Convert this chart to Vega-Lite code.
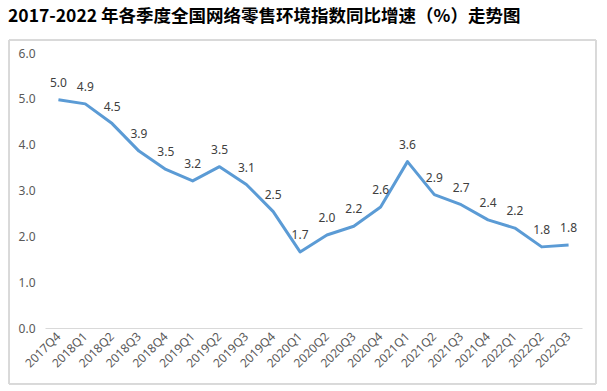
{
  "$schema": "https://vega.github.io/schema/vega-lite/v6.json",
  "width": 537,
  "height": 275,
  "autosize": {"type": "none"},
  "padding": {"left": 45, "top": 53, "right": 25, "bottom": 63},
  "background": "white",
  "title": {
    "text": "2017-2022 年各季度全国网络零售环境指数同比增速（%）走势图",
    "anchor": "start",
    "frame": "group",
    "dx": -37,
    "offset": 14,
    "font": "Noto Sans CJK SC",
    "fontSize": 17.5,
    "fontWeight": "bold",
    "color": "#000000"
  },
  "config": {
    "view": {"stroke": null},
    "font": "Noto Sans"
  },
  "data": {
    "values": [
      {"q": "2017Q4", "v": 4.98},
      {"q": "2018Q1", "v": 4.89},
      {"q": "2018Q2", "v": 4.46},
      {"q": "2018Q3", "v": 3.86},
      {"q": "2018Q4", "v": 3.46},
      {"q": "2019Q1", "v": 3.21},
      {"q": "2019Q2", "v": 3.52},
      {"q": "2019Q3", "v": 3.13},
      {"q": "2019Q4", "v": 2.54},
      {"q": "2020Q1", "v": 1.66},
      {"q": "2020Q2", "v": 2.03},
      {"q": "2020Q3", "v": 2.22},
      {"q": "2020Q4", "v": 2.64},
      {"q": "2021Q1", "v": 3.63},
      {"q": "2021Q2", "v": 2.91},
      {"q": "2021Q3", "v": 2.69},
      {"q": "2021Q4", "v": 2.36},
      {"q": "2022Q1", "v": 2.18},
      {"q": "2022Q2", "v": 1.77},
      {"q": "2022Q3", "v": 1.81}
    ]
  },
  "resolve": {"scale": {"x": "independent"}},
  "layer": [
    {
      "mark": {"type": "rect", "fill": null, "stroke": "#d9d9d9", "strokeWidth": 1},
      "encoding": {
        "x": {"datum": -0.067, "type": "quantitative", "scale": {"domain": [0, 1], "nice": false, "zero": false}, "axis": null},
        "x2": {"datum": 1.026},
        "y": {"datum": -1.222, "type": "quantitative"},
        "y2": {"datum": 6.284}
      }
    },
    {
      "layer": [
        {
          "mark": {"type": "line", "color": "#5B9BD5", "strokeWidth": 3, "strokeJoin": "round"},
          "encoding": {
            "x": {
              "field": "q",
              "type": "ordinal",
              "sort": null,
              "scale": {"type": "band", "paddingInner": 0, "paddingOuter": 0},
              "axis": {
                "title": null,
                "labelAngle": -45,
                "labelAlign": "right",
                "labelBaseline": "middle",
                "labelPadding": 6,
                "labelFontSize": 12,
                "labelColor": "#595959",
                "ticks": false,
                "domainColor": "#d9d9d9",
                "domainWidth": 1,
                "grid": false
              }
            },
            "y": {
              "field": "v",
              "type": "quantitative",
              "scale": {"domain": [0, 6], "nice": false},
              "axis": {
                "title": null,
                "values": [0, 1, 2, 3, 4, 5, 6],
                "format": ".1f",
                "domain": false,
                "ticks": false,
                "grid": false,
                "labelPadding": 10,
                "labelFontSize": 12,
                "labelColor": "#595959"
              }
            }
          }
        },
        {
          "mark": {"type": "text", "dy": -17, "fontSize": 12, "color": "#404040", "baseline": "middle"},
          "encoding": {
            "x": {"field": "q", "type": "ordinal", "sort": null},
            "y": {"field": "v", "type": "quantitative"},
            "text": {"field": "v", "type": "quantitative", "format": ".1f"}
          }
        }
      ]
    }
  ]
}
